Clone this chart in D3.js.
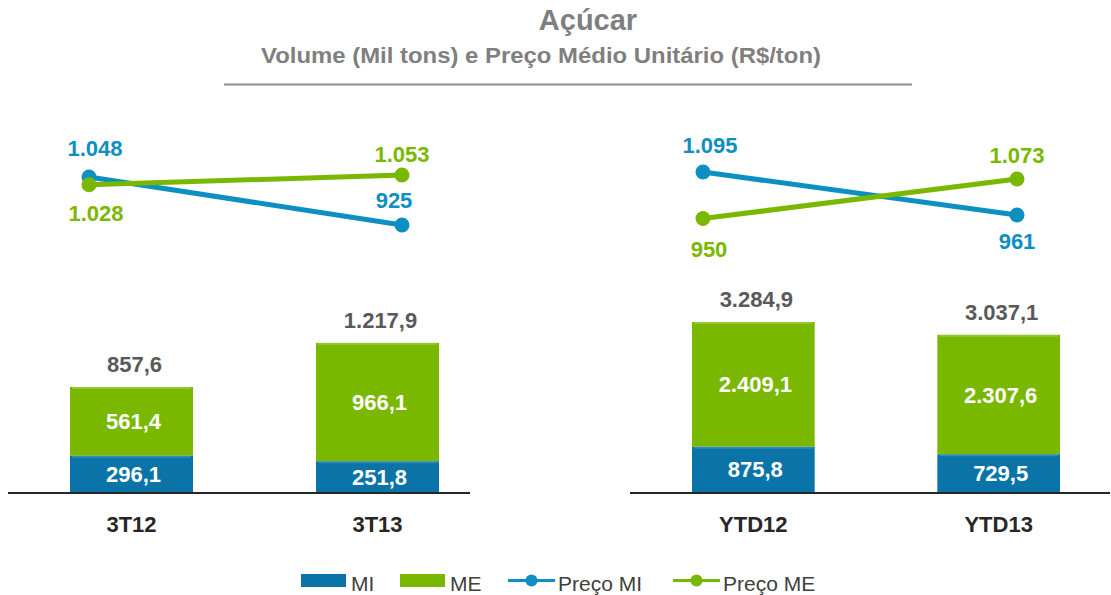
<!DOCTYPE html>
<html>
<head>
<meta charset="utf-8">
<script src="https://cdn.jsdelivr.net/npm/d3@7"></script>
<style>
  body { margin: 0; background: #fff; }
  text { font-family: "Liberation Sans", Arial, sans-serif; }
</style>
</head>
<body>
<div id="chart"></div>
<script>
// data
var leftCats = ["3T12", "3T13"];
var rightCats = ["YTD12", "YTD13"];
var leftMI = [296.1, 251.8];
var leftME = [561.4, 966.1];
var leftTotal = [857.6, 1217.9];
var rightMI = [875.8, 729.5];
var rightME = [2409.1, 2307.6];
var rightTotal = [3284.9, 3037.1];
var leftPrecoMI = [1048, 925];
var leftPrecoME = [1028, 1053];
var rightPrecoMI = [1095, 961];
var rightPrecoME = [950, 1073];

var svgWidth = 1111;
var svgHeight = 595;
var baseY = 492;

var blue = "#0a74a8";
var lineBlue = "#0d8fc2";
var green = "#7ab800";
var gray = "#595959";

var fmt = d3.formatLocale({decimal: ",", thousands: ".", grouping: [3], currency: ["R$", ""]});
var fmt1 = fmt.format(",.1f");
var fmt0 = fmt.format(",.0f");

var svg = d3.select("#chart")
  .append("svg")
  .attr("width", svgWidth)
  .attr("height", svgHeight);

// title
svg.append("text")
  .attr("x", 588).attr("y", 30)
  .attr("text-anchor", "middle")
  .attr("font-size", 29).attr("font-weight", "bold")
  .attr("fill", "#7f7f7f")
  .text("Açúcar");

svg.append("text")
  .attr("x", 541).attr("y", 63)
  .attr("text-anchor", "middle")
  .attr("font-size", 22.5).attr("font-weight", "bold")
  .attr("fill", "#7f7f7f")
  .attr("textLength", 560).attr("lengthAdjust", "spacingAndGlyphs")
  .text("Volume (Mil tons) e Preço Médio Unitário (R$/ton)");

svg.append("line")
  .attr("x1", 224).attr("x2", 912)
  .attr("y1", 84.5).attr("y2", 84.5)
  .attr("stroke", "#8c8c8c").attr("stroke-width", 2);

function panel(cfg) {
  var g = svg.append("g");

  var x = d3.scaleBand()
    .domain(cfg.cats)
    .range(cfg.barRange)
    .paddingInner(0.5)
    .paddingOuter(0);

  var y = d3.scaleLinear()
    .domain([0, cfg.yMax])
    .range([baseY, baseY - cfg.yPx]);

  var xp = d3.scalePoint()
    .domain(cfg.cats)
    .range(cfg.pointRange);

  var yp = d3.scaleLinear()
    .domain(cfg.pDomain)
    .range(cfg.pRange);

  var rows = cfg.cats.map((c, i) => ({cat: c, mi: cfg.mi[i], me: cfg.me[i], tot: cfg.tot[i], pmi: cfg.pmi[i], pme: cfg.pme[i]}));
  var cx = d => x(d.cat) + x.bandwidth() / 2;

  // bars
  g.selectAll(".mi").data(rows).enter().append("rect")
    .attr("x", d => x(d.cat))
    .attr("width", x.bandwidth())
    .attr("y", d => y(d.mi))
    .attr("height", d => y(0) - y(d.mi))
    .attr("fill", blue);

  g.selectAll(".me").data(rows).enter().append("rect")
    .attr("x", d => x(d.cat))
    .attr("width", x.bandwidth())
    .attr("y", d => y(d.mi + d.me))
    .attr("height", d => y(d.mi) - y(d.mi + d.me))
    .attr("fill", green);

  // slight highlight on segment tops
  g.selectAll(".hlme").data(rows).enter().append("rect")
    .attr("x", d => x(d.cat) + 2)
    .attr("width", x.bandwidth() - 4)
    .attr("y", d => y(d.mi + d.me))
    .attr("height", 2)
    .attr("fill", "#a6d24d").attr("opacity", 0.6);
  g.selectAll(".hlmi").data(rows).enter().append("rect")
    .attr("x", d => x(d.cat) + 2)
    .attr("width", x.bandwidth() - 4)
    .attr("y", d => y(d.mi))
    .attr("height", 2)
    .attr("fill", "#4a9bc6").attr("opacity", 0.6);

  // bar labels
  g.selectAll(".lmi").data(rows).enter().append("text")
    .attr("x", d => cx(d) + 2)
    .attr("y", d => (y(0) + y(d.mi)) / 2 + 8)
    .attr("text-anchor", "middle")
    .attr("font-size", 22).attr("font-weight", "bold")
    .attr("fill", "#fff")
    .text(d => fmt1(d.mi));

  g.selectAll(".lme").data(rows).enter().append("text")
    .attr("x", d => cx(d) + 2)
    .attr("y", d => (y(d.mi) + y(d.mi + d.me)) / 2 + 8)
    .attr("text-anchor", "middle")
    .attr("font-size", 22).attr("font-weight", "bold")
    .attr("fill", "#fff")
    .text(d => fmt1(d.me));

  g.selectAll(".ltot").data(rows).enter().append("text")
    .attr("x", d => cx(d) + 3)
    .attr("y", d => y(d.mi + d.me) - 15)
    .attr("text-anchor", "middle")
    .attr("font-size", 22).attr("font-weight", "bold")
    .attr("fill", gray)
    .text(d => fmt1(d.tot));

  // baseline
  g.append("line")
    .attr("x1", cfg.axisRange[0]).attr("x2", cfg.axisRange[1])
    .attr("y1", baseY + 1).attr("y2", baseY + 1)
    .attr("stroke", "#262626").attr("stroke-width", 2);

  // category labels
  g.selectAll(".cat").data(rows).enter().append("text")
    .attr("x", cx)
    .attr("y", 532)
    .attr("text-anchor", "middle")
    .attr("font-size", 22).attr("font-weight", "bold")
    .attr("fill", "#262626")
    .text(d => d.cat);

  // price lines
  [["pmi", lineBlue, cfg.pmiOff], ["pme", green, cfg.pmeOff]].forEach(function(s) {
    var key = s[0], col = s[1], off = s[2];
    g.append("path")
      .datum(rows)
      .attr("d", d3.line().x(d => xp(d.cat)).y(d => yp(d[key])))
      .attr("fill", "none")
      .attr("stroke", col)
      .attr("stroke-width", 5);
    g.selectAll(".pt" + key).data(rows).enter().append("circle")
      .attr("cx", d => xp(d.cat))
      .attr("cy", d => yp(d[key]))
      .attr("r", 7.5)
      .attr("fill", col);
    g.selectAll(".pl" + key).data(rows).enter().append("text")
      .attr("x", (d, i) => xp(d.cat) + off[i][0])
      .attr("y", (d, i) => yp(d[key]) + off[i][1])
      .attr("text-anchor", "middle")
      .attr("font-size", 22).attr("font-weight", "bold")
      .attr("fill", col)
      .text(d => fmt0(d[key]));
  });
}

panel({
  cats: leftCats, mi: leftMI, me: leftME, tot: leftTotal, pmi: leftPrecoMI, pme: leftPrecoME,
  barRange: [70, 439], yMax: 857.6, yPx: 105,
  pointRange: [89, 402], pDomain: [925, 1048], pRange: [225, 177],
  axisRange: [8, 470],
  pmiOff: [[6, -21], [-8, -17]], pmeOff: [[7, 36], [0, -13]]
});

panel({
  cats: rightCats, mi: rightMI, me: rightME, tot: rightTotal, pmi: rightPrecoMI, pme: rightPrecoME,
  barRange: [692, 1060], yMax: 3284.9, yPx: 170,
  pointRange: [703, 1017], pDomain: [961, 1095], pRange: [215, 172],
  axisRange: [630, 1110],
  pmiOff: [[7, -19], [0, 34]], pmeOff: [[6, 38], [0, -16]]
});

// legend
var legend = svg.append("g").attr("transform", "translate(0, 580)");
var legItems = [
  {name: "MI", type: "bar", color: blue, x: 301},
  {name: "ME", type: "bar", color: green, x: 400},
  {name: "Preço MI", type: "line", color: lineBlue, x: 508},
  {name: "Preço ME", type: "line", color: green, x: 673}
];
legItems.forEach(function(d) {
  if (d.type === "bar") {
    legend.append("rect").attr("x", d.x).attr("y", -6).attr("width", 45).attr("height", 13).attr("fill", d.color);
  } else {
    legend.append("line").attr("x1", d.x).attr("x2", d.x + 47).attr("y1", 0.5).attr("y2", 0.5)
      .attr("stroke", d.color).attr("stroke-width", 3);
    legend.append("circle").attr("cx", d.x + 23.5).attr("cy", 0.5).attr("r", 6).attr("fill", d.color);
  }
  legend.append("text")
    .attr("x", d.x + 50).attr("y", 11)
    .attr("font-size", 21)
    .attr("fill", "#404040")
    .text(d.name);
});
</script>
</body>
</html>
